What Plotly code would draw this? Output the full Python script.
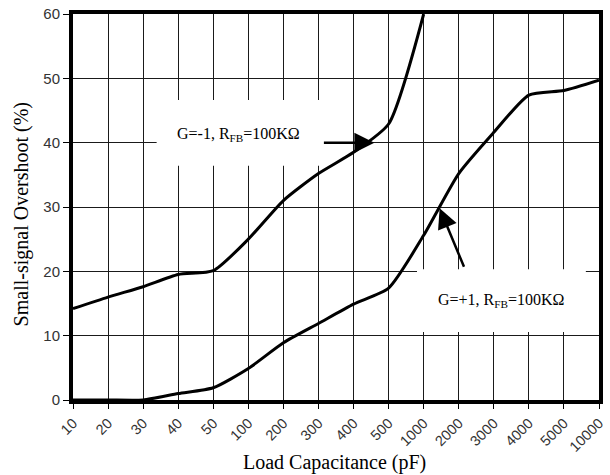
import plotly.graph_objects as go

# ---- data ----
capacitance_pf = ["10", "20", "30", "40", "50", "100", "200", "300", "400", "500",
                  "1000", "2000", "3000", "4000", "5000", "10000"]
overshoot_g_neg1 = [14.2, 16.0, 17.6, 19.5, 20.1, 25.0, 31.0, 35.2, 38.5, 42.9, 60.0,
                    None, None, None, None, None]
overshoot_g_pos1 = [0.0, 0.0, 0.0, 1.0, 1.9, 4.9, 8.9, 11.9, 14.9, 17.4, 25.6,
                    35.2, 41.6, 47.4, 48.1, 49.7]
y_ticks = [0, 10, 20, 30, 40, 50, 60]

label_neg1 = "G=-1, R<sub>FB</sub>=100KΩ"
label_pos1 = "G=+1, R<sub>FB</sub>=100KΩ"
title_text = "Small-signal Overshoot vs. Load Capacitance"
x_title = "Load Capacitance (pF)"
y_title = "Small-signal Overshoot (%)"

SERIF = "Liberation Serif, Times New Roman, serif"
SANS = "Liberation Sans, Arial, sans-serif"

fig = go.Figure()
for vals in (overshoot_g_neg1, overshoot_g_pos1):
    fig.add_trace(go.Scatter(
        x=capacitance_pf, y=vals, mode="lines",
        line=dict(color="black", width=3, shape="spline", smoothing=0.6),
        connectgaps=False, showlegend=False, hoverinfo="skip",
    ))

# white boxes hiding grid lines behind the labels
for x0, x1, y0, y1 in ((0.159, 0.482, 0.607, 0.777), (0.654, 0.975, 0.176, 0.339)):
    fig.add_shape(type="rect", xref="paper", yref="paper", x0=x0, x1=x1, y0=y0, y1=y1,
                  fillcolor="white", line=dict(width=0), layer="above")

annotations = [
    dict(text=label_neg1, xref="paper", yref="y", x=0.314, y=41.2, showarrow=False,
         xanchor="center", yanchor="middle",
         font=dict(family=SERIF, size=16, color="black")),
    dict(text=label_pos1, xref="paper", yref="y", x=0.814, y=15.5, showarrow=False,
         xanchor="center", yanchor="middle",
         font=dict(family=SERIF, size=16, color="black")),
    # arrows
    dict(text="", xref="paper", yref="y", x=0.573, y=40.0, ax=-52, ay=0,
         axref="pixel", ayref="pixel", showarrow=True, arrowhead=2, arrowsize=1.6,
         arrowwidth=2.5, arrowcolor="black", standoff=0),
    dict(text="", xref="paper", yref="y", x=0.697, y=29.8, ax=25, ay=60,
         axref="pixel", ayref="pixel", showarrow=True, arrowhead=2, arrowsize=1.6,
         arrowwidth=2.5, arrowcolor="black", standoff=0),
    # titles
    dict(text=x_title, xref="paper", yref="paper", x=0.498, y=-0.163, showarrow=False,
         xanchor="center", yanchor="middle",
         font=dict(family=SERIF, size=20, color="black")),
    dict(text=y_title, xref="paper", yref="paper", x=-0.098, y=0.482, showarrow=False,
         textangle=-90, xanchor="center", yanchor="middle",
         font=dict(family=SERIF, size=20, color="black")),
    dict(text=title_text, xref="paper", yref="paper", x=0.499, y=1, yshift=27,
         showarrow=False, xanchor="center", yanchor="middle",
         font=dict(family=SERIF, size=23, color="#333333")),
]

fig.update_layout(
    width=610, height=475,
    margin=dict(l=73, r=3.5, t=14, b=75),
    paper_bgcolor="white", plot_bgcolor="white",
    annotations=annotations,
    xaxis=dict(
        type="category", categoryorder="array", categoryarray=capacitance_pf,
        range=[0, 15], showgrid=True, gridcolor="#1a1a1a", gridwidth=1.3,
        showline=True, linecolor="black", linewidth=4, mirror=True,
        ticks="outside", ticklen=5, tickwidth=1, tickcolor="black",
        tickangle=-45, tickfont=dict(family=SANS, size=14.5, color="#333333"),
        zeroline=False, fixedrange=True,
    ),
    yaxis=dict(
        range=[0, 60], tickvals=y_ticks, showgrid=True, gridcolor="#1a1a1a",
        gridwidth=1.3, showline=True, linecolor="black", linewidth=4, mirror=True,
        ticks="outside", ticklen=6, tickwidth=1, tickcolor="black",
        tickfont=dict(family=SANS, size=15, color="#333333"),
        zeroline=False, fixedrange=True,
    ),
)

fig.write_html("out.html", config={"displayModeBar": False},
               post_script="document.body.style.margin='0';")
